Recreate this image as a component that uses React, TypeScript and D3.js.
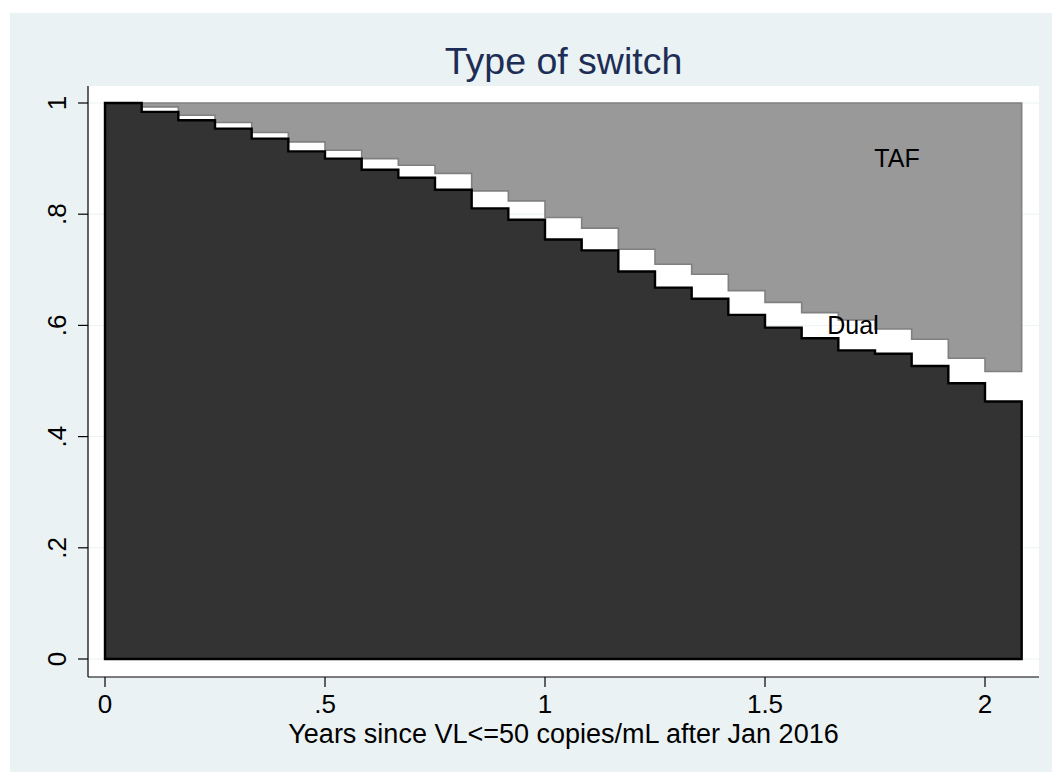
import React, { useEffect, useRef } from 'react';
import * as d3 from 'd3';

// monthly step values (each entry covers one month, 25 months total)
const dualValues = [
  1.0, 0.984, 0.969, 0.954, 0.936, 0.913, 0.9, 0.88, 0.8655, 0.844, 0.8105, 0.79, 0.7545,
  0.735, 0.697, 0.668, 0.648, 0.619, 0.596, 0.577, 0.555, 0.549, 0.527, 0.496, 0.463,
];
const tafLower = [
  1.0, 0.993, 0.978, 0.965, 0.947, 0.93, 0.915, 0.9, 0.888, 0.8735, 0.842, 0.824, 0.794,
  0.775, 0.737, 0.71, 0.692, 0.6625, 0.6415, 0.623, 0.61, 0.5935, 0.575, 0.541, 0.517,
];
const xTicks = [0, 0.5, 1, 1.5, 2];
const xTickLabels = ['0', '.5', '1', '1.5', '2'];
const yTicks = [0, 0.2, 0.4, 0.6, 0.8, 1];
const yTickLabels = ['0', '.2', '.4', '.6', '.8', '1'];
const areaLabels = [
  { text: 'TAF', x: 1.8, y: 0.9 },
  { text: 'Dual', x: 1.7, y: 0.6 },
];

const FONT = '"Liberation Sans", Arial, Helvetica, sans-serif';

const App = () => {
  const chartRef = useRef(null);

  useEffect(() => {
    const svg = d3.select(chartRef.current);
    svg.selectAll('*').remove();

    const W = 1052;
    const H = 772;
    const plot = { left: 88, top: 86, right: 1039, bottom: 677 };

    // background
    svg.append('rect').attr('width', W).attr('height', H).attr('fill', '#ffffff');
    svg
      .append('rect')
      .attr('x', 10)
      .attr('y', 13)
      .attr('width', W - 10)
      .attr('height', H - 13)
      .attr('fill', '#EAF2F3');
    svg
      .append('rect')
      .attr('x', plot.left)
      .attr('y', plot.top)
      .attr('width', plot.right - plot.left)
      .attr('height', plot.bottom - plot.top)
      .attr('fill', '#ffffff');

    const xScale = d3.scaleLinear().domain([0, 2]).range([105, 985]);
    const yScale = d3.scaleLinear().domain([0, 1]).range([659, 103]);

    // gridlines
    svg
      .append('g')
      .selectAll('line')
      .data(yTicks)
      .enter()
      .append('line')
      .attr('x1', plot.left)
      .attr('x2', plot.right)
      .attr('y1', (d) => yScale(d))
      .attr('y2', (d) => yScale(d))
      .attr('stroke', '#EAF2F3')
      .attr('stroke-width', 1);

    // step data: point at start of each month + closing point
    const toSteps = (vals) => {
      const pts = vals.map((v, i) => ({ t: i / 12, v }));
      pts.push({ t: vals.length / 12, v: vals[vals.length - 1] });
      return pts;
    };
    const dualData = toSteps(dualValues);
    const tafData = toSteps(tafLower);

    // TAF band (between lower edge and 1)
    const tafArea = d3
      .area()
      .curve(d3.curveStepAfter)
      .x((d) => xScale(d.t))
      .y0((d) => yScale(d.v))
      .y1(() => yScale(1));
    svg
      .append('path')
      .datum(tafData)
      .attr('d', tafArea)
      .attr('fill', '#999999')
      .attr('stroke', '#808080')
      .attr('stroke-width', 1.6)
      .attr('stroke-linejoin', 'miter');

    // Dual area (from 0 to step curve)
    const dualArea = d3
      .area()
      .curve(d3.curveStepAfter)
      .x((d) => xScale(d.t))
      .y0(() => yScale(0))
      .y1((d) => yScale(d.v));
    svg
      .append('path')
      .datum(dualData)
      .attr('d', dualArea)
      .attr('fill', '#333333')
      .attr('stroke', '#000000')
      .attr('stroke-width', 2.4)
      .attr('stroke-linejoin', 'miter');

    // area labels
    svg
      .selectAll('.area-label')
      .data(areaLabels)
      .enter()
      .append('text')
      .attr('class', 'area-label')
      .attr('x', (d) => xScale(d.x))
      .attr('y', (d) => yScale(d.y))
      .attr('dy', '0.35em')
      .attr('text-anchor', 'middle')
      .style('font-family', FONT)
      .style('font-size', '25px')
      .style('fill', '#000')
      .text((d) => d.text);

    // axes lines
    svg
      .append('line')
      .attr('x1', plot.left)
      .attr('x2', plot.left)
      .attr('y1', plot.top)
      .attr('y2', plot.bottom)
      .attr('stroke', '#000')
      .attr('stroke-width', 1.2);
    svg
      .append('line')
      .attr('x1', plot.left)
      .attr('x2', plot.right)
      .attr('y1', plot.bottom)
      .attr('y2', plot.bottom)
      .attr('stroke', '#000')
      .attr('stroke-width', 1.2);

    // y ticks + labels
    const yg = svg.append('g');
    yg.selectAll('line')
      .data(yTicks)
      .enter()
      .append('line')
      .attr('x1', plot.left - 10)
      .attr('x2', plot.left)
      .attr('y1', (d) => yScale(d))
      .attr('y2', (d) => yScale(d))
      .attr('stroke', '#000')
      .attr('stroke-width', 1.2);
    yg.selectAll('text')
      .data(yTicks)
      .enter()
      .append('text')
      .attr('transform', (d) => `translate(66,${yScale(d)}) rotate(-90)`)
      .attr('text-anchor', 'middle')
      .style('font-family', FONT)
      .style('font-size', '26px')
      .style('fill', '#000')
      .text((d, i) => yTickLabels[i]);

    // x ticks + labels
    const xg = svg.append('g');
    xg.selectAll('line')
      .data(xTicks)
      .enter()
      .append('line')
      .attr('x1', (d) => xScale(d))
      .attr('x2', (d) => xScale(d))
      .attr('y1', plot.bottom)
      .attr('y2', plot.bottom + 10)
      .attr('stroke', '#000')
      .attr('stroke-width', 1.2);
    xg.selectAll('text')
      .data(xTicks)
      .enter()
      .append('text')
      .attr('x', (d) => xScale(d))
      .attr('y', 713)
      .attr('text-anchor', 'middle')
      .style('font-family', FONT)
      .style('font-size', '26px')
      .style('fill', '#000')
      .text((d, i) => xTickLabels[i]);

    // axis title
    svg
      .append('text')
      .attr('x', (plot.left + plot.right) / 2)
      .attr('y', 743)
      .attr('text-anchor', 'middle')
      .style('font-family', FONT)
      .style('font-size', '27px')
      .style('fill', '#000')
      .text('Years since VL<=50 copies/mL after Jan 2016');

    // title
    svg
      .append('text')
      .attr('x', (plot.left + plot.right) / 2)
      .attr('y', 74)
      .attr('text-anchor', 'middle')
      .style('font-family', FONT)
      .style('font-size', '37.5px')
      .style('fill', '#1E2D55')
      .text('Type of switch');
  }, []);

  return (
    <svg
      ref={chartRef}
      width={1052}
      height={772}
      style={{ position: 'absolute', left: 0, top: 0, display: 'block' }}
    />
  );
};

export default App;
